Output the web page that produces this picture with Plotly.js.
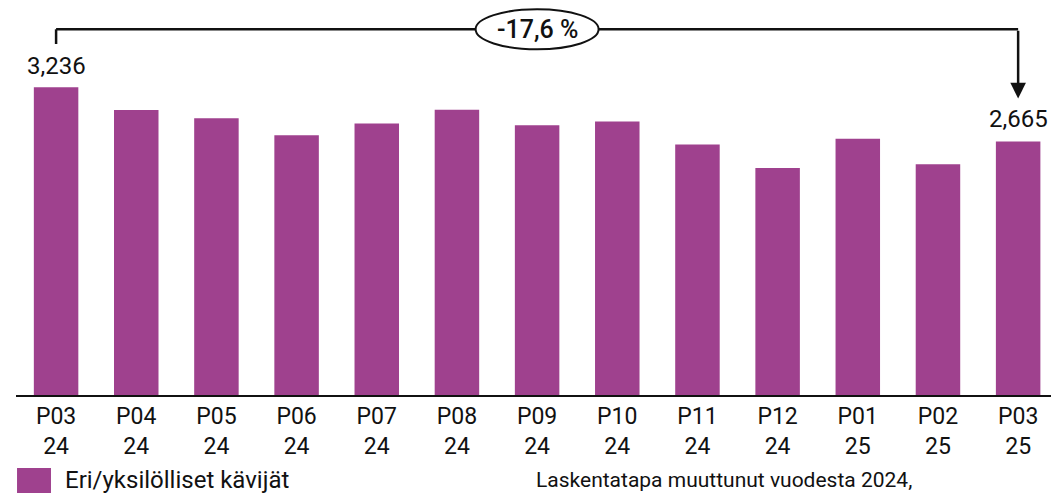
<!DOCTYPE html>
<html>
<head>
<meta charset="utf-8">
<script src="https://cdn.plot.ly/plotly-3.0.1.min.js"></script>
<style>
  html, body { margin: 0; padding: 0; background: #fff; }
  #chart { width: 1051px; height: 493px; }
</style>
</head>
<body>
<div id="chart"></div>
<script>
// ---- data ----
const periods = ["P03", "P04", "P05", "P06", "P07", "P08", "P09", "P10", "P11", "P12", "P01", "P02", "P03"];
const years   = ["24", "24", "24", "24", "24", "24", "24", "24", "24", "24", "25", "25", "25"];
const values  = [3.236, 2.997, 2.910, 2.731, 2.855, 3.000, 2.836, 2.875, 2.634, 2.387, 2.696, 2.426, 2.665];
const seriesName = "Eri/yksilölliset kävijät";
const footnote = "Laskentatapa muuttunut vuodesta 2024,";

// ---- derived ----
const cats = periods.map((p, i) => p + " " + years[i]);
const tickText = periods.map((p, i) => p + "<br>" + years[i]);
const fmt = v => v.toFixed(3).replace(".", ",");
const first = values[0], last = values[values.length - 1];
const change = ((last / first) - 1) * 100;
const changeText = change.toFixed(1).replace(".", ",") + " %";
const lastIdx = values.length - 1;
const midIdx = lastIdx / 2;

const FONT = "Roboto, 'Noto Sans', sans-serif";
const BAR = "#9f418e";
const bracketY = 3.846;

const trace = {
  type: "bar",
  x: cats,
  y: values,
  name: seriesName,
  marker: { color: BAR },
  hoverinfo: "skip",
  showlegend: false
};

const layout = {
  width: 1051,
  height: 493,
  margin: { l: 16, r: 0, t: 0, b: 98 },
  paper_bgcolor: "#fff",
  plot_bgcolor: "#fff",
  bargap: 0.445,
  font: { family: FONT, color: "#111" },
  xaxis: {
    type: "category",
    range: [-0.5, 12.41],
    tickmode: "array",
    tickvals: cats,
    ticktext: tickText,
    tickfont: { family: FONT, size: 23, color: "#111" },
    showline: true,
    linecolor: "#111",
    linewidth: 1.5,
    ticks: "",
    showgrid: false,
    zeroline: false,
    fixedrange: true
  },
  yaxis: {
    range: [0, 4.154],
    visible: false,
    showgrid: false,
    zeroline: false,
    fixedrange: true
  },
  shapes: [
    // bracket horizontal line
    { type: "line", xref: "x", yref: "y", x0: 0, x1: lastIdx, y0: bracketY, y1: bracketY,
      line: { color: "#111", width: 2.5 } },
    // left tick
    { type: "line", xref: "x", yref: "y", x0: 0, x1: 0, y0: bracketY, y1: 3.691,
      line: { color: "#111", width: 2.5 } },
    // ellipse with change label
    { type: "circle", xref: "x", yref: "y", xsizemode: "pixel", ysizemode: "pixel",
      xanchor: midIdx, yanchor: bracketY, x0: -61.5, x1: 61.5, y0: -20, y1: 20,
      fillcolor: "#fff", line: { color: "#111", width: 2 }, layer: "above" },
    // legend swatch
    { type: "rect", xref: "paper", yref: "paper", x0: 0.001, x1: 0.0338, y0: -0.185, y1: -0.25,
      fillcolor: BAR, line: { width: 0 } }
  ],
  annotations: [
    // right arrow
    { xref: "x", yref: "y", x: lastIdx, y: 3.119, axref: "x", ayref: "y", ax: lastIdx, ay: bracketY,
      text: "", showarrow: true, arrowhead: 2, arrowsize: 1.25, arrowwidth: 2.5, arrowcolor: "#111",
      standoff: 0 },
    // value labels
    { xref: "x", yref: "y", x: 0, y: first, text: fmt(first), showarrow: false,
      yanchor: "bottom", yshift: 5, font: { family: FONT, size: 24, color: "#111" } },
    { xref: "x", yref: "y", x: lastIdx, y: last, text: fmt(last), showarrow: false,
      yanchor: "bottom", yshift: 7, font: { family: FONT, size: 24, color: "#111" } },
    // change label
    { xref: "x", yref: "y", x: midIdx, y: bracketY, text: changeText, showarrow: false,
      xanchor: "center", yanchor: "middle", font: { family: FONT, size: 25, color: "#111", weight: 500 } },
    // legend text
    { xref: "paper", yref: "paper", x: 0.045, y: -0.215, text: seriesName, showarrow: false,
      xanchor: "left", yanchor: "middle", font: { family: FONT, size: 24, color: "#111" } },
    // footnote
    { xref: "paper", yref: "paper", x: 0.5005, y: -0.215, text: footnote, showarrow: false,
      xanchor: "left", yanchor: "middle", font: { family: FONT, size: 21, color: "#111" } }
  ]
};

Plotly.newPlot("chart", [trace], layout, { displayModeBar: false, staticPlot: true });
</script>
</body>
</html>
